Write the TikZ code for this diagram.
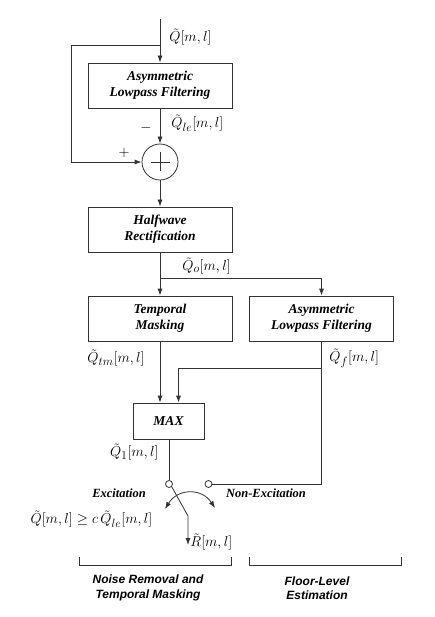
\documentclass[tikz,border=0pt]{standalone}
\usepackage{fontspec}
\setmainfont{Liberation Serif}
\newfontfamily\hsans{Liberation Sans}
\DeclareMathSizes{15}{15}{12.5}{10}
\usetikzlibrary{arrows.meta}
\begin{document}
\begin{tikzpicture}[x=1pt,y=-1pt,
  line width=0.8pt,
  color=black!80,
  arr/.style={-{Latex[length=7pt,width=5pt]}},
  blk/.style={draw=black!80,line width=0.8pt,minimum width=144pt,minimum height=45pt,inner sep=0pt,align=center,text=black,font=\fontsize{13.5}{16}\selectfont\bfseries\itshape},
  lbl/.style={inner sep=0pt,text=black,font=\fontsize{15}{17}\selectfont},
  swl/.style={inner sep=0pt,text=black,font=\fontsize{12.5}{14}\selectfont\bfseries\itshape},
  brl/.style={inner sep=0pt,align=center,text=black,font=\fontsize{12}{14.5}\selectfont\hsans\bfseries\itshape},
  port/.style={circle,draw=black!80,fill=white,line width=0.8pt,minimum size=7pt,inner sep=0pt}
]
\useasboundingbox (0,0) rectangle (435,617);

\coordinate (in) at (160,19);
\coordinate (fb) at (160,45);
\coordinate (fbl) at (71,45);
\node[blk] (alf1) at (160,85.5) {Asymmetric\\Lowpass Filtering};
\node[circle,draw=black!80,line width=0.8pt,minimum size=36pt,inner sep=0pt] (sum) at (160,162) {};
\draw (sum.center) ++(-9.5,0) -- ++(19,0);
\draw (sum.center) ++(0,-9.5) -- ++(0,19);
\node[blk] (hw) at (160,229.5) {Halfwave\\Rectification};
\coordinate (br) at (160,278);
\coordinate (brr) at (321.5,278);
\node[blk] (tm) at (160,318.5) {Temporal\\Masking};
\node[blk] (alf2) at (321.5,318.5) {Asymmetric\\Lowpass Filtering};
\node[blk,minimum width=71pt,minimum height=36pt] (max) at (168.5,421) {MAX};
\coordinate (fr) at (321.5,368);
\coordinate (fl) at (178.5,368);
\node[port] (p1) at (169,484) {};
\node[port] (p2) at (208.5,484) {};
\coordinate (pr) at (321.5,484);
\coordinate (knee) at (188,516);
\coordinate (rout) at (188,545);
\coordinate (ca) at (165,509);
\coordinate (cb) at (215,508);

% connectors
\draw[arr] (in) -- (alf1.north);
\draw[arr] (fb) -- (fbl) |- (sum.west);
\draw[arr] (alf1.south) -- (sum.north);
\draw[arr] (sum.south) -- (hw.north);
\draw (hw.south) -- (br);
\draw[arr] (br) -- (tm.north);
\draw[arr] (br) -- (brr) -- (alf2.north);
\draw[arr] (tm.south) -- (tm.south |- max.north);
\draw (alf2.south) -- (fr);
\draw[arr] (fr) -- (fl) -- (fl |- max.north);
\draw (max.south -| p1) -- (p1.north);
\draw (p2.east) -- (pr) -- (alf2.south -| pr);
\draw[arr] (p1.south east) -- (knee) -- (rout);
\draw[{Latex[length=7pt,width=5pt]}-{Latex[length=7pt,width=5pt]}] (ca) .. controls (178,488) and (202,488) .. (cb);

% labels
\node[lbl,anchor=west] (lq) at (169,37) {$\tilde{Q}[m,l]$};
\node[lbl,anchor=west] (lqle) at (171,123) {$\tilde{Q}_{le}[m,l]$};
\node[lbl] (minus) at (146,128) {$-$};
\node[lbl] (plus) at (124,153) {$+$};
\node[lbl,anchor=west] (lqo) at (182,266) {$\tilde{Q}_{o}[m,l]$};
\node[lbl,anchor=west] (lqtm) at (87,358) {$\tilde{Q}_{tm}[m,l]$};
\node[lbl,anchor=west] (lqf) at (329,358) {$\tilde{Q}_{f}[m,l]$};
\node[lbl,anchor=east] (lq1) at (159,452) {$\tilde{Q}_{1}[m,l]$};
\node[swl] (exc) at (119,493) {Excitation};
\node[swl] (nexc) at (266,493) {Non-Excitation};
\node[lbl] (cond) at (91.5,519) {$\tilde{Q}[m,l]\geq c\,\tilde{Q}_{le}[m,l]$};
\node[lbl,anchor=west] (lr) at (190,542) {$\tilde{R}[m,l]$};

% brackets
\draw (79,557) -- (79,565) -- (231,565) -- (231,557);
\draw (249.5,557) -- (249.5,565) -- (401.5,565) -- (401.5,557);
\node[brl] (b1) at (148,588) {Noise Removal and\\Temporal Masking};
\node[brl] (b2) at (317,588) {Floor-Level\\Estimation};
\end{tikzpicture}
\end{document}
